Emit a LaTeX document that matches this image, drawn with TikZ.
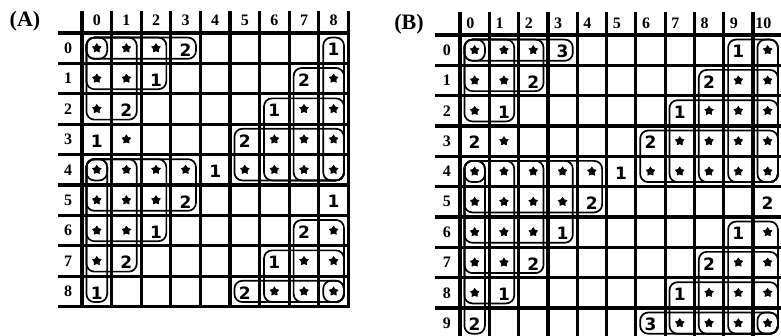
\documentclass[tikz,border=0pt]{standalone}
\usepackage{fontspec}
\setmainfont{Liberation Serif}
\newfontfamily\cellfont{DejaVu Sans}
\usetikzlibrary{shapes.geometric}
\begin{document}
\begin{tikzpicture}[x=1pt,y=-1pt]
\useasboundingbox (0,0) rectangle (781,336);
\tikzset{
 gridline/.style={line width=3.2pt},
 edgeline/.style={line width=4.6pt},
 pen/.style={line width=1.7pt, rounded corners=8pt},
 starmark/.style={star, star points=5, star point ratio=1.7, fill=black, draw=black, line width=0.6pt, inner sep=0pt, minimum size=9pt},
 numlabel/.style={font=\cellfont\bfseries\fontsize{17}{17}\selectfont, inner sep=0pt},
 headlabel/.style={font=\bfseries\fontsize{16}{16}\selectfont, inner sep=0pt},
 panellabel/.style={font=\bfseries\fontsize{22}{22}\selectfont, inner sep=0pt},
}
\node[panellabel] (labA) at (25,21) {(A)};
\node[panellabel] (labB) at (409,24) {(B)};

% ---------------- Grid A ----------------
\begin{scope}[shift={(82,33)}, x=29.6pt, y=-30.4pt]
 \foreach \r in {0,...,9} \draw[gridline] (-0.82,\r) -- (9.05,\r);
 \foreach \c in {1,...,9} \draw[gridline] (\c,-0.72) -- (\c,9.05);
 \draw[edgeline] (0,-0.72) -- (0,9.05);
 \foreach \c in {0,...,8} \node[headlabel] (hA\c) at (\c+0.5,-0.42) {\c};
 \foreach \r in {0,...,8} \node[headlabel] (rA\r) at (-0.47,\r+0.5) {\r};
 \foreach \r/\c in {0/0,0/1,0/2,1/0,1/1,2/0,3/1,
   1/8,2/7,2/8,3/6,3/7,3/8,
   4/0,4/1,4/2,4/3,4/5,4/6,4/7,4/8,
   5/0,5/1,5/2,6/0,6/1,7/0,
   6/8,7/7,7/8,8/6,8/7,8/8}
   \node[starmark] (sA-\r-\c) at (\c+0.5,\r+0.5) {};
 \foreach \r/\c/\n in {0/3/2,0/8/1,1/2/1,1/7/2,2/1/2,2/6/1,3/0/1,3/5/2,4/4/1,
   5/3/2,5/8/1,6/2/1,6/7/2,7/1/2,7/6/1,8/0/1,8/5/2}
   \node[numlabel] (nA-\r-\c) at (\c+0.5,\r+0.55) {\n};
 \foreach \ra/\ca/\rb/\cb in {0/0/0/0,0/0/2/1,0/0/1/2,0/0/0/3,
   0/8/4/8,1/7/4/8,2/6/4/8,3/5/4/8,
   4/0/4/0,4/0/8/0,4/0/7/1,4/0/6/2,4/0/5/3,
   8/8/8/8,6/7/8/8,7/6/8/8,8/5/8/8}
   \draw[pen] (\ca+0.15,\ra+0.15) rectangle (\cb+0.85,\rb+0.85);
\end{scope}

% ---------------- Grid B ----------------
\begin{scope}[shift={(460,35)}, x=29.3pt, y=-30.33pt]
 \foreach \r in {0,...,10} \draw[gridline] (-0.85,\r) -- (11.05,\r);
 \foreach \c in {1,...,11} \draw[gridline] (\c,-0.76) -- (\c,10.05);
 \draw[edgeline] (0,-0.76) -- (0,10.05);
 \foreach \c in {0,...,10} \node[headlabel] (hB\c) at (\c+0.35,-0.38) {\c};
 \foreach \r in {0,...,9} \node[headlabel] (rB\r) at (-0.45,\r+0.5) {\r};
 \foreach \r/\c in {0/0,0/1,0/2,0/10,
   1/0,1/1,1/9,1/10,
   2/0,2/8,2/9,2/10,
   3/1,3/7,3/8,3/9,3/10,
   4/0,4/1,4/2,4/3,4/4,4/6,4/7,4/8,4/9,4/10,
   5/0,5/1,5/2,5/3,
   6/0,6/1,6/2,6/10,
   7/0,7/1,7/9,7/10,
   8/0,8/8,8/9,8/10,
   9/7,9/8,9/9,9/10}
   \node[starmark] (sB-\r-\c) at (\c+0.5,\r+0.5) {};
 \foreach \r/\c/\n in {0/3/3,0/9/1,1/2/2,1/8/2,2/1/1,2/7/1,3/0/2,3/6/2,4/5/1,
   5/4/2,5/10/2,6/3/1,6/9/1,7/2/2,7/8/2,8/1/1,8/7/1,9/0/2,9/6/3}
   \node[numlabel] (nB-\r-\c) at (\c+0.5,\r+0.55) {\n};
 \foreach \ra/\ca/\rb/\cb in {0/0/0/0,0/0/2/1,0/0/1/2,0/0/0/3,
   0/10/4/10,0/9/4/10,1/8/4/10,2/7/4/10,3/6/4/10,
   4/0/4/0,4/0/9/0,4/0/8/1,4/0/7/2,4/0/6/3,4/0/5/4,
   9/10/9/10,6/9/9/10,7/8/9/10,8/7/9/10,9/6/9/10}
   \draw[pen] (\ca+0.15,\ra+0.15) rectangle (\cb+0.85,\rb+0.85);
\end{scope}
\end{tikzpicture}
\end{document}
